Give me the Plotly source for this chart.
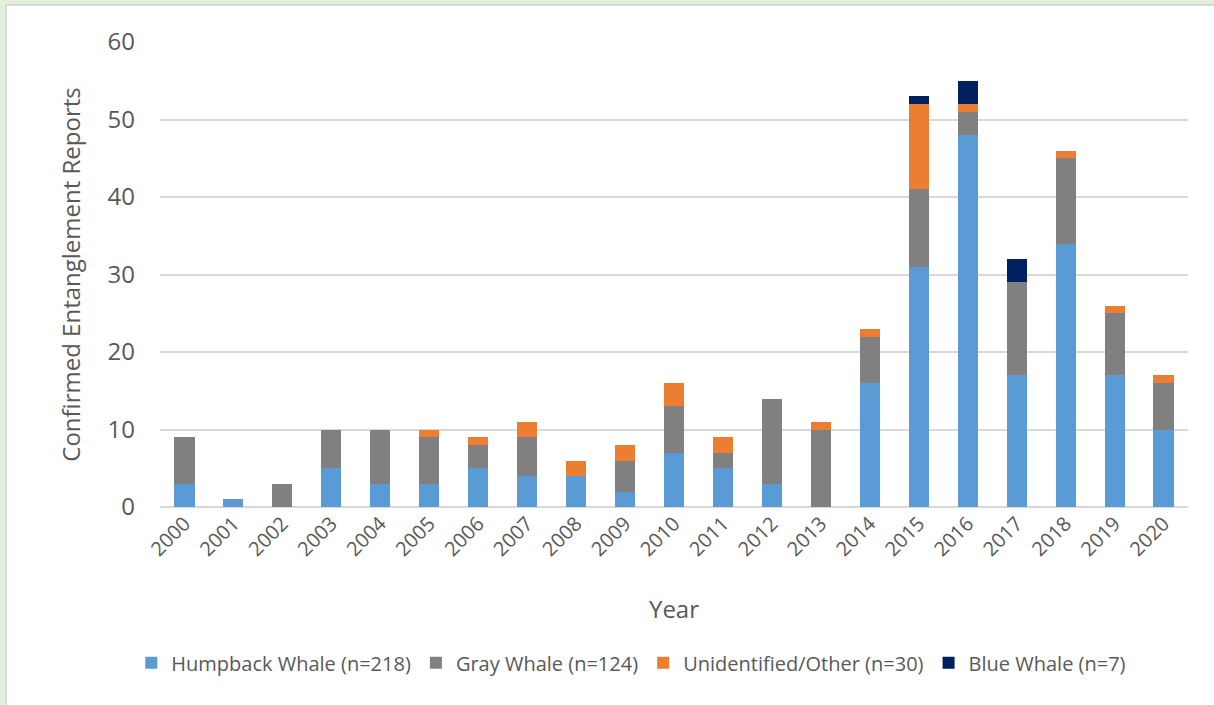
import plotly.graph_objects as go

years = [str(y) for y in range(2000, 2021)]
humpback = [3, 1, 0, 5, 3, 3, 5, 4, 4, 2, 7, 5, 3, 0, 16, 31, 48, 17, 34, 17, 10]
gray = [6, 0, 3, 5, 7, 6, 3, 5, 0, 4, 6, 2, 11, 10, 6, 10, 3, 12, 11, 8, 6]
unidentified = [0, 0, 0, 0, 0, 1, 1, 2, 2, 2, 3, 2, 0, 1, 1, 11, 1, 0, 1, 1, 1]
blue = [0, 0, 0, 0, 0, 0, 0, 0, 0, 0, 0, 0, 0, 0, 0, 1, 3, 3, 0, 0, 0]

series = [
    ("Humpback Whale (n=218)", humpback, "#5B9BD5"),
    ("Gray Whale (n=124)", gray, "#808080"),
    ("Unidentified/Other (n=30)", unidentified, "#ED7D31"),
    ("Blue Whale (n=7)", blue, "#002060"),
]

W, H = 1214, 705
L, R, T, B = 160, 26, 42, 198
pw, ph = W - L - R, H - T - B

fig = go.Figure()
for name, vals, col in series:
    fig.add_trace(go.Bar(x=years, y=vals, name=name, marker_color=col,
                         marker_line_width=0))

def px_x(x):
    return (x - L) / pw

def px_y(y):
    return (H - B - y) / ph

fig.update_layout(
    width=W, height=H,
    margin=dict(l=L, r=R, t=T, b=B),
    barmode="stack", bargap=0.59,
    paper_bgcolor="#E2EFDA", plot_bgcolor="white",
    font=dict(family="Open Sans", color="#595959"),
    shapes=[dict(type="rect", xref="paper", yref="paper", layer="below",
                 x0=px_x(6), x1=px_x(1230), y0=px_y(720), y1=px_y(5),
                 fillcolor="white", line=dict(color="#D9D9D9", width=2))],
    xaxis=dict(tickangle=-45, tickfont=dict(size=20), showgrid=False,
               title=dict(text="Year", font=dict(size=24), standoff=40),
               ticks="", showline=False),
    yaxis=dict(range=[0, 60], dtick=10, tickfont=dict(size=24),
               gridcolor="#D9D9D9", gridwidth=2, zeroline=True,
               zerolinecolor="#D9D9D9", zerolinewidth=2, ticklabelstandoff=24,
               title=dict(text="Confirmed Entanglement Reports", font=dict(size=24), standoff=20)),
    legend=dict(orientation="h", x=0.52, xanchor="center", xref="container",
                y=0.06, yanchor="middle", yref="container", traceorder="normal",
                font=dict(size=20), bgcolor="rgba(0,0,0,0)",
                itemwidth=30, tracegroupgap=0),
)

fig.write_html("out.html")
